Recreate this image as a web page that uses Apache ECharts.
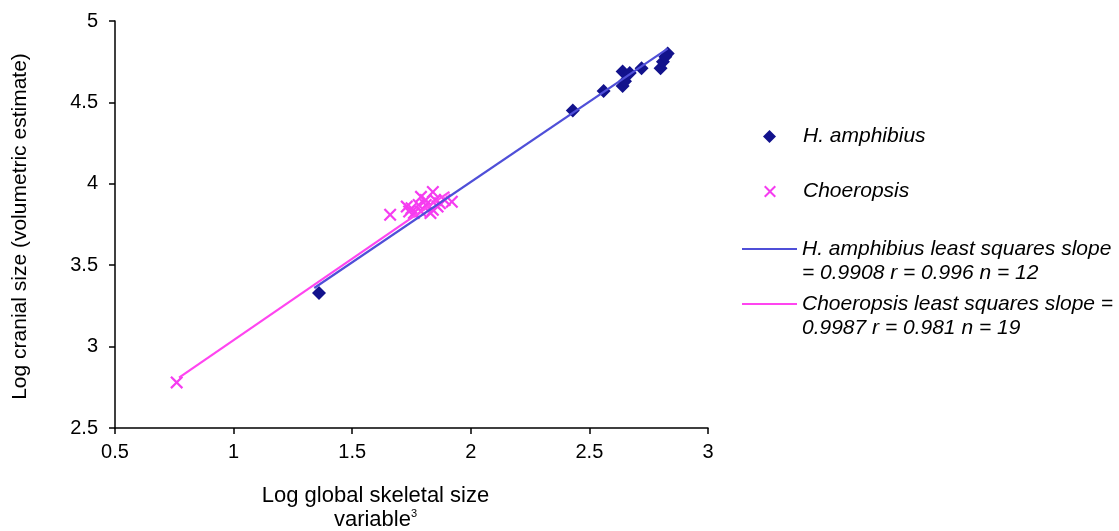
<!DOCTYPE html>
<html>
<head>
<meta charset="utf-8">
<script src="https://cdn.jsdelivr.net/npm/echarts@6/dist/echarts.min.js"></script>
<style>
html,body{margin:0;padding:0;background:#fff;}
#chart{width:1119px;height:531px;}
</style>
</head>
<body>
<div id="chart"></div>
<script>
// ---- data ----
var hAmphibiusPoints = [
  [1.36, 3.33], [2.43, 4.45], [2.56, 4.57], [2.64, 4.60], [2.65, 4.63],
  [2.64, 4.69], [2.67, 4.68], [2.72, 4.71], [2.80, 4.71], [2.81, 4.75],
  [2.83, 4.80], [2.82, 4.78]
];
var choeropsisPoints = [
  [0.76, 2.78], [1.66, 3.81], [1.73, 3.86], [1.75, 3.85], [1.76, 3.82],
  [1.79, 3.92], [1.79, 3.83], [1.81, 3.87], [1.83, 3.82], [1.84, 3.95],
  [1.85, 3.90], [1.86, 3.86], [1.87, 3.88], [1.89, 3.90], [1.92, 3.89],
  [1.78, 3.87], [1.81, 3.90], [1.84, 3.84], [1.74, 3.83]
];
var hAmphibiusFit = [[1.34, 3.36], [2.83, 4.83]];
var choeropsisFit = [[0.77, 2.81], [1.91, 3.95]];
var xTicks = {min: 0.5, max: 3, interval: 0.5};
var yTicks = {min: 2.5, max: 5, interval: 0.5};
var names = {
  hAmph: 'H. amphibius',
  choer: 'Choeropsis',
  hAmphFit: 'H. amphibius least squares slope\n= 0.9908 r = 0.996 n = 12',
  choerFit: 'Choeropsis least squares slope =\n0.9987 r = 0.981 n = 19'
};

var NAVY = '#12128c', BLUE = '#4f4fd8', PINK = '#f53cf0', PINKLINE = '#ff45f0';
var FONT = 'Liberation Sans, Arial, sans-serif';
var crossPath = 'path://M0,1.2L1.2,0L5,3.8L8.8,0L10,1.2L6.2,5L10,8.8L8.8,10L5,6.2L1.2,10L0,8.8L3.8,5Z';

var chart = echarts.init(document.getElementById('chart'), null, {renderer: 'canvas'});

function legendText(extra) {
  return Object.assign({fontFamily: FONT, fontSize: 21, fontStyle: 'italic', color: '#000'}, extra || {});
}

chart.setOption({
  animation: false,
  backgroundColor: '#fff',
  grid: {left: 115, right: 411, top: 21, bottom: 103, containLabel: false, outerBoundsMode: 'none'},
  xAxis: {
    type: 'value', min: xTicks.min, max: xTicks.max, interval: xTicks.interval,
    axisLine: {lineStyle: {color: '#000', width: 1.5}},
    axisTick: {show: true, length: 6, lineStyle: {color: '#000', width: 1.5}},
    splitLine: {show: false},
    axisLabel: {color: '#000', fontFamily: FONT, fontSize: 20, margin: 14,
      formatter: function (v) { return String(v); }},
    name: 'Log global skeletal size\nvariable{sup|3}',
    nameLocation: 'middle', nameGap: 56,
    nameTextStyle: {color: '#000', fontFamily: FONT, fontSize: 22, lineHeight: 24,
      padding: [0, 72, 0, 0],
      rich: {sup: {fontSize: 11, verticalAlign: 'top', padding: [0, 0, 10, 0], fontFamily: FONT, color: '#000'}}}
  },
  yAxis: {
    type: 'value', min: yTicks.min, max: yTicks.max, interval: yTicks.interval,
    axisLine: {show: true, lineStyle: {color: '#000', width: 1.5}},
    axisTick: {show: true, length: 6, lineStyle: {color: '#000', width: 1.5}},
    splitLine: {show: false},
    axisLabel: {color: '#000', fontFamily: FONT, fontSize: 20, margin: 17,
      formatter: function (v) { return String(v); }},
    name: 'Log cranial size (volumetric estimate)',
    nameLocation: 'middle', nameGap: 84, nameRotate: 90,
    nameTextStyle: {color: '#000', fontFamily: FONT, fontSize: 21, padding: [0, 4, 0, 0]}
  },
  legend: [
    {data: [{name: names.hAmph, icon: 'diamond'}], left: 763, top: 126, padding: 0,
      itemWidth: 13, itemHeight: 13, selectedMode: false, textStyle: legendText({padding: [0, 0, 0, 22]})},
    {data: [{name: names.choer, icon: crossPath}], left: 764, top: 181, padding: 0,
      itemWidth: 12, itemHeight: 12, selectedMode: false, textStyle: legendText({padding: [0, 0, 0, 22]})},
    {data: [{name: names.hAmphFit}], left: 742, top: 213, padding: 0,
      itemWidth: 55, itemHeight: 2, icon: 'rect', selectedMode: false,
      formatter: function (n) { return '\n' + n; }, textStyle: legendText({lineHeight: 24})},
    {data: [{name: names.choerFit}], left: 742, top: 268, padding: 0,
      itemWidth: 55, itemHeight: 2, icon: 'rect', selectedMode: false,
      formatter: function (n) { return '\n' + n; }, textStyle: legendText({lineHeight: 24})}
  ],
  series: [
    {name: names.hAmph, type: 'scatter', data: hAmphibiusPoints, symbol: 'diamond', symbolSize: 14,
      itemStyle: {color: NAVY, opacity: 1}, z: 2},
    {name: names.choer, type: 'scatter', data: choeropsisPoints, symbol: crossPath, symbolSize: 13,
      itemStyle: {color: PINK, opacity: 1}, z: 2},
    {name: names.hAmphFit, type: 'line', data: hAmphibiusFit, showSymbol: false, symbol: 'none',
      lineStyle: {color: BLUE, width: 2.2}, itemStyle: {color: BLUE}, z: 3},
    {name: names.choerFit, type: 'line', data: choeropsisFit, showSymbol: false, symbol: 'none',
      lineStyle: {color: PINKLINE, width: 2.2}, itemStyle: {color: PINKLINE}, z: 3}
  ]
});
</script>
</body>
</html>
